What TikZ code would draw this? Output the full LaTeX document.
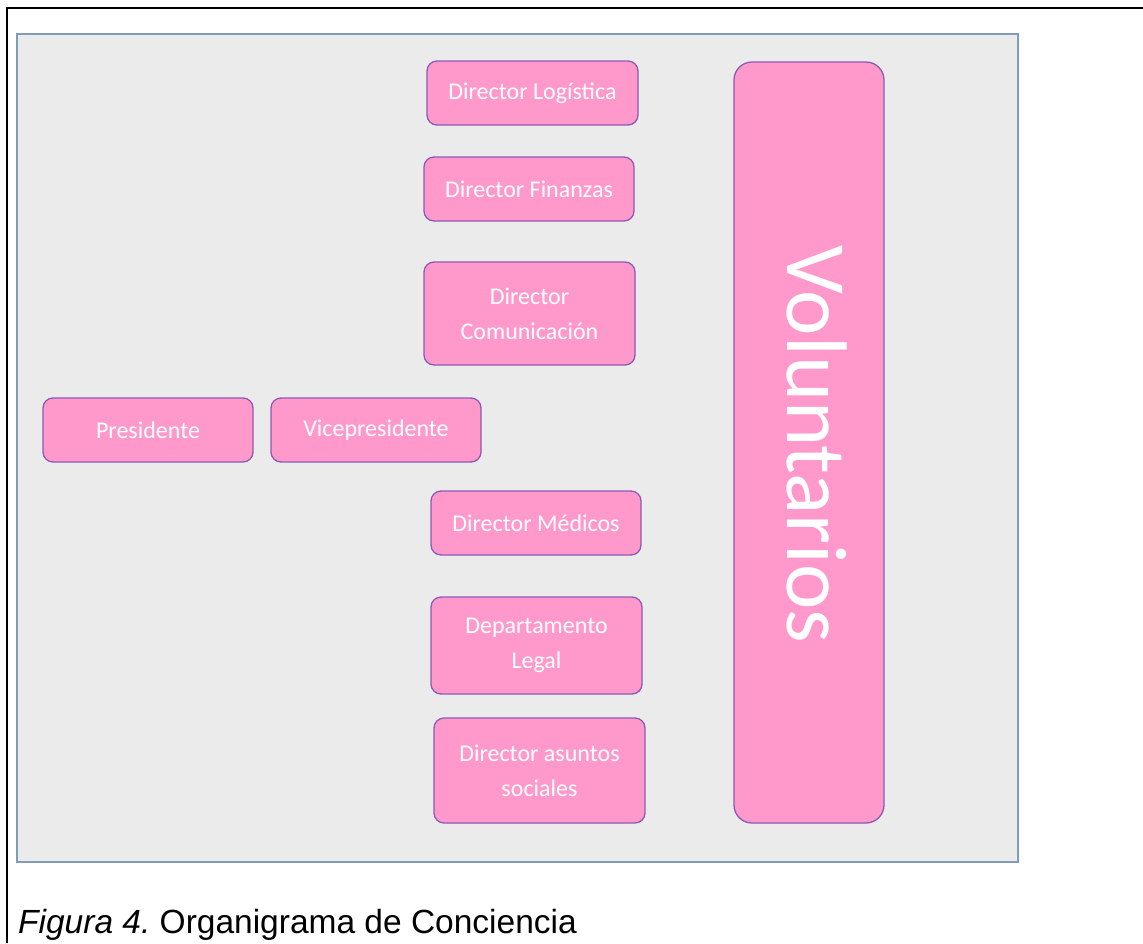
\documentclass[tikz,border=0pt]{standalone}
\usepackage{fontspec}
\setmainfont{Liberation Sans}
\newfontfamily\carlito{Carlito}
\definecolor{boxfill}{RGB}{255,153,204}
\definecolor{boxline}{RGB}{140,90,180}
\definecolor{panelfill}{RGB}{235,235,235}
\definecolor{panelline}{RGB}{127,157,185}
\tikzset{
  orgbox/.style={draw=boxline, fill=boxfill, line width=1.3pt, rounded corners=10pt,
    text=white, font=\carlito\fontsize{24}{35}\selectfont, align=center, inner sep=0pt},
}
\begin{document}
\begin{tikzpicture}[x=1pt,y=-1pt]
\useasboundingbox (0,0) rectangle (1143,943);
% outer frame (top and left)
\draw[line width=2.2pt] (7,943) -- (7,8) -- (1143,8);
% panel
\draw[draw=panelline, fill=panelfill, line width=2pt] (17,34) rectangle (1018,862);
% boxes
\node[orgbox, minimum width=211, minimum height=64] (log) at (532.5,93) {Director Logística};
\node[orgbox, minimum width=210, minimum height=64] (fin) at (529,189) {Director Finanzas};
\node[orgbox, minimum width=211, minimum height=103] (com) at (529.5,313.5) {Director\\Comunicación};
\node[orgbox, minimum width=210, minimum height=64] (pre) at (148,430) {Presidente};
\node[orgbox, minimum width=210, minimum height=64] (vic) at (376,430) {Vicepresidente};
\node[orgbox, minimum width=210, minimum height=64] (med) at (536,523) {Director Médicos};
\node[orgbox, minimum width=211, minimum height=97] (leg) at (536.5,645.5) {Departamento\\Legal};
\node[orgbox, minimum width=211, minimum height=105] (soc) at (539.5,770.5) {Director asuntos\\sociales};
\node[orgbox, rounded corners=18pt, minimum width=150, minimum height=761] (vol) at (809,442.5) {};
\node[text=white, font=\carlito\fontsize{86}{96}\selectfont, rotate=-90, inner sep=0pt] (voltxt) at ([xshift=8pt,yshift=-2pt]vol.center) {Voluntarios};
% caption
\node[anchor=base west, inner sep=0pt, font=\fontsize{33.5}{40}\selectfont] (cap) at (18,933) {\itshape Figura 4.\upshape\ Organigrama de Conciencia};
\end{tikzpicture}
\end{document}
